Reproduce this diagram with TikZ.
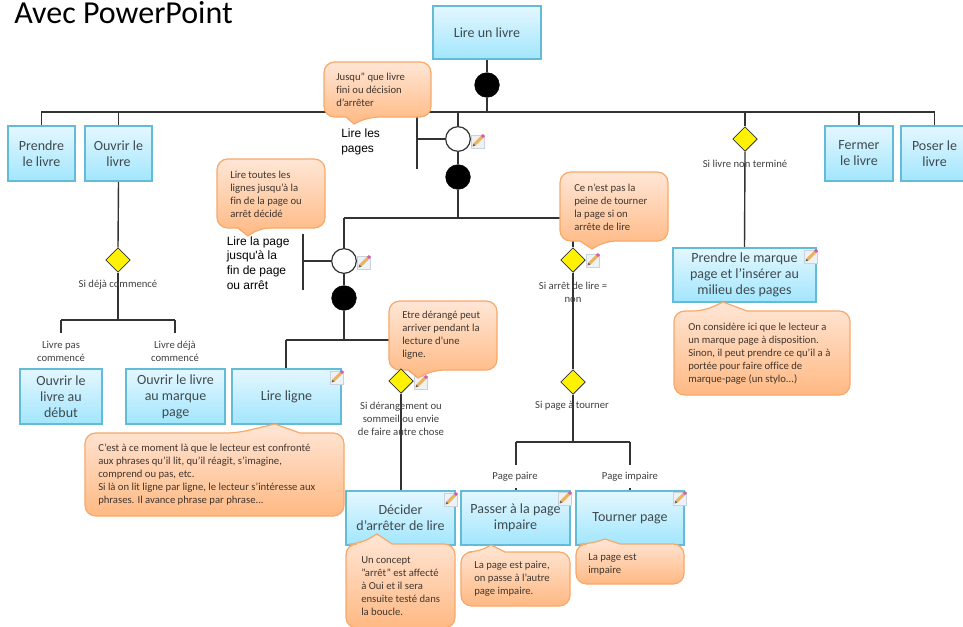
\documentclass[tikz,border=0pt]{standalone}
\usepackage{fontspec}
\setmainfont{Carlito}[Ligatures=NoCommon]
\newfontfamily\arialf{Liberation Sans}
\usetikzlibrary{shapes.geometric,backgrounds}
\definecolor{boxtop}{HTML}{E4F7FF}
\definecolor{boxbot}{HTML}{A2E6FD}
\definecolor{boxline}{HTML}{62BCD8}
\definecolor{caltop}{HTML}{FFE6D6}
\definecolor{calbot}{HTML}{FFB983}
\definecolor{calline}{HTML}{F8A868}
\definecolor{linecol}{HTML}{333333}
\definecolor{txtbox}{HTML}{3F4A4E}
\definecolor{txtcal}{HTML}{40362E}
\definecolor{txtlab}{HTML}{404040}
\definecolor{notebg}{HTML}{EEF1F5}
\definecolor{noteln}{HTML}{CBD2DA}
\definecolor{pencil}{HTML}{EDB35C}
\definecolor{eraser}{HTML}{D65BB0}
\tikzset{
  x=0.75pt,y=-0.75pt,
  taskbox/.style={draw=boxline,line width=0.9pt,top color=boxtop,bottom color=boxbot,
    align=center,inner sep=0pt,text=txtbox,font=\fontsize{10.5}{12}\selectfont},
  blackdot/.style={circle,fill=black,draw=black,minimum size=18.5pt,inner sep=0pt},
  whitedot/.style={circle,fill=white,draw=linecol,line width=0.9pt,minimum size=18.5pt,inner sep=0pt},
  decision/.style={diamond,fill=yellow,draw=linecol,line width=0.6pt,minimum size=18.5pt,inner sep=0pt,aspect=1},
  conn/.style={draw=linecol,line width=1.05pt},
  callshape/.style={draw=calline,line width=0.9pt,top color=caltop,bottom color=calbot},
  calltext/.style={anchor=west,align=left,inner sep=0pt,text=txtcal,font=\fontsize{8}{9.75}\selectfont},
  guard/.style={align=center,inner sep=0pt,text=txtlab,font=\fontsize{8}{9.75}\selectfont},
  actlabel/.style={anchor=west,align=left,inner sep=0pt,text=black},
}
% name x1 y1 x2 y2 text
\newcommand\taskn[6]{\node[taskbox,minimum width={(#4-#2)*0.75pt},minimum height={(#5-#3)*0.75pt}] (#1) at ({(#2+#4)/2},{(#3+#5)/2}) {#6};}
% callout with pointer below: x1 y1 x2 y2 base1 base2 tipx tipy
\newcommand\callbelow[8]{\path[callshape,rounded corners=8pt] ({(#1+#3)/2},#2) -- (#3,#2) -- (#3,#4) -- (#6,#4) [sharp corners] -- (#7,#8) -- (#5,#4) [rounded corners=8pt] -- (#1,#4) -- (#1,#2) -- cycle;}
% callout with pointer above
\newcommand\callabove[8]{\path[callshape,rounded corners=8pt] ({(#1+#3)/2},#4) -- (#1,#4) -- (#1,#2) -- (#5,#2) [sharp corners] -- (#7,#8) -- (#6,#2) [rounded corners=8pt] -- (#3,#2) -- (#3,#4) -- cycle;}
% note icon
\newcommand\noteicon[2]{\begin{scope}[shift={(#1,#2)}]
  \path[fill=notebg,draw=noteln,line width=0.7pt] (-7,-6) rectangle (6,7);
  \draw[line width=2.2pt,color=pencil] (-3.5,3.5) -- (4,-4);
  \draw[line width=2.2pt,color=eraser] (4,-4) -- (6,-6);
  \fill[black!60] (-5.5,5.5) -- (-4.6,2.6) -- (-2.6,4.6) -- cycle;
\end{scope}}
\begin{document}
\begin{tikzpicture}
\useasboundingbox (0,0) rectangle (963,626);
\clip (0,0) rectangle (963,626);
\node[anchor=base west,inner sep=0pt,text=black,font=\fontsize{24}{26}\selectfont] (title) at (14,23) {Avec PowerPoint};

% task boxes
\taskn{root}{433}{6}{541}{59}{Lire un livre}
\taskn{prendre}{8}{126}{75}{181}{Prendre\\le livre}
\taskn{ouvrir}{85}{126}{152}{181}{Ouvrir le\\livre}
\taskn{fermer}{825}{126}{893}{181}{Fermer\\le livre}
\taskn{poser}{901}{126}{968}{181}{Poser le\\livre}
\taskn{debut}{20}{369}{102}{424}{Ouvrir le\\livre au\\début}
\taskn{marque}{126}{369}{225}{424}{Ouvrir le livre\\au marque\\page}
\taskn{ligne}{232}{369}{341}{424}{Lire ligne}
\taskn{decider}{346}{491}{455}{545}{Décider\\d'arrêter de lire}
\taskn{passer}{461}{491}{570}{545}{Passer à la page\\impaire}
\taskn{tourner}{576}{491}{684}{545}{Tourner page}
\taskn{inserer}{673}{248}{816}{302}{Prendre le marque\\page et l'insérer au\\milieu des pages}

% operators
\node[blackdot] (s0) at (487,85) {};
\node[whitedot] (w1) at (458,139) {};
\node[blackdot] (s1) at (458,177) {};
\node[whitedot] (w2) at (344,261) {};
\node[blackdot] (s2) at (344,298) {};

% junctions
\coordinate (j0) at (487,112);
\coordinate (j1) at (458,112);
\coordinate (j2) at (417,112);
\coordinate (j3) at (745,112);
\coordinate (e1) at (417,169);
\coordinate (m1) at (417,139);
\coordinate (j4) at (458,218);
\coordinate (j5) at (344,218);
\coordinate (j6) at (573,218);
\coordinate (m2) at (303,261);
\coordinate (t2) at (303,234);
\coordinate (e2) at (303,290);
\coordinate (j7) at (344,340);
\coordinate (j8) at (286,340);
\coordinate (j9) at (401,340);
\coordinate (j10) at (118,320);
\coordinate (a1) at (61,320);
\coordinate (a2) at (175,320);
\coordinate (a1e) at (61,333);
\coordinate (a2e) at (175,333);
\coordinate (j11) at (573,442);
\coordinate (b1) at (516,442);
\coordinate (b2) at (630,442);
\coordinate (b1e) at (516,465);
\coordinate (b2e) at (630,465);
\coordinate (b1s) at (516,488);
\coordinate (b2s) at (630,488);

% callouts
\callbelow{324}{62}{431}{117}{346}{368}{354}{124}
\callbelow{217}{159}{325}{228}{238}{259}{248}{236}
\callbelow{560}{172}{668}{241}{580}{605}{592}{249}
\callabove{674}{311}{850}{395}{704}{747}{723}{302}
\callabove{85}{433}{344}{516}{237}{300}{275}{424}
\noteicon{421}{382}
\callbelow{389}{301}{497}{370}{408}{433}{418}{378}
\callabove{346}{544}{455}{628}{360}{392}{377}{534}
\callabove{461}{552}{570}{606}{479}{505}{491}{545}
\callabove{576}{544}{684}{584}{590}{620}{605}{539}

% decisions
\node[decision] (d1) at (118,260) {};
\node[decision] (d2) at (745,139) {};
\node[decision] (d3) at (573,260) {};
\node[decision] (d4) at (573,382) {};
\node[decision] (d5) at (401,381) {};

% connectors
\begin{scope}[on background layer]
\draw[conn] (root.south) -- (s0.north);
\draw[conn] (s0.south) -- (j0);
\draw[conn] (prendre.north) |- (j3) ;
\draw[conn] (ouvrir.north) -- (ouvrir.north |- j0);
\draw[conn] (j3) -| (fermer.north);
\draw[conn] (j3) -| (poser.north);
\draw[conn] (j1) -- (w1.north);
\draw[conn] (j3) -- (d2.north);
\draw[conn] (d2.south) -- (inserer.north);
\draw[conn] (j2) -- (e1);
\draw[conn] (m1) -- (w1.west);
\draw[conn] (w1.south) -- (s1.north);
\draw[conn] (s1.south) -- (j4);
\draw[conn] (j5) -- (j6);
\draw[conn] (j5) -- (w2.north);
\draw[conn] (j6) -- (d3.north);
\draw[conn] (t2) -- (e2);
\draw[conn] (m2) -- (w2.west);
\draw[conn] (w2.south) -- (s2.north);
\draw[conn] (s2.south) -- (j7);
\draw[conn] (j8) -- (j9);
\draw[conn] (j8) -- (ligne.north -| j8);
\draw[conn] (j9) -- (d5.north);
\draw[conn] (d5.south) -- (decider.north -| d5);
\draw[conn] (ouvrir.south) -- (d1.north);
\draw[conn] (d1.south) -- (j10);
\draw[conn] (a1) -- (a2);
\draw[conn] (a1) -- (a1e);
\draw[conn] (a2) -- (a2e);
\draw[conn] (d3.south) -- (d4.north);
\draw[conn] (d4.south) -- (j11);
\draw[conn] (b1) -- (b2);
\draw[conn] (b1) -- (b1e);
\draw[conn] (b2) -- (b2e);
\draw[conn] (b1s) -- (passer.north -| b1s);
\draw[conn] (b2s) -- (tourner.north -| b2s);
\end{scope}

% note icons
\noteicon{478}{141}
\noteicon{364}{262}
\noteicon{337}{377}
\noteicon{451}{499}
\noteicon{565}{498}
\noteicon{680}{498}
\noteicon{593}{260}
\noteicon{811}{256}

% callout texts
\node[calltext] (c1) at (336,90) {Jusqu" que livre\\fini ou décision\\d'arrêter};
\node[calltext] (c2) at (230,194) {Lire toutes les\\lignes jusqu'à la\\fin de la page ou\\arrêt décidé};
\node[calltext] (c3) at (574,207.5) {Ce n'est pas la\\peine de tourner\\la page si on\\arrête de lire};
\node[calltext] (c4) at (688,353.5) {On considère ici que le lecteur a\\un marque page à disposition.\\Sinon, il peut prendre ce qu'il a à\\portée pour faire office de\\marque-page (un stylo...)};
\node[calltext] (c5) at (98,475) {C'est à ce moment là que le lecteur est confronté\\aux phrases qu'il lit, qu'il réagit, s'imagine,\\comprend ou pas, etc.\\Si là on lit ligne par ligne, le lecteur s'intéresse aux\\phrases. Il avance phrase par phrase...};
\node[calltext] (c6) at (402,335.5) {Etre dérangé peut\\arriver pendant la\\lecture d'une\\ligne.};
\node[calltext] (c7) at (361,586) {Un concept\\"arrêt" est affecté\\à Oui et il sera\\ensuite testé dans\\la boucle.};
\node[calltext] (c8) at (474,579) {La page est paire,\\on passe à l'autre\\page impaire.};
\node[calltext] (c9) at (588,564.5) {La page est\\impaire};

% guards
\node[guard] (g1) at (118,285) {Si déjà commencé};
\node[guard] (g2) at (745,164) {Si livre non terminé};
\node[guard] (g3) at (573,292) {Si arrêt de lire =\\non};
\node[guard] (g4) at (572,406) {Si page à tourner};
\node[guard] (g5) at (401,419) {Si dérangement ou\\sommeil ou envie\\de faire autre chose};
\node[guard] (g6) at (61,351) {Livre pas\\commencé};
\node[guard] (g7) at (175,351) {Livre déjà\\commencé};
\node[guard] (g8) at (515,477) {Page paire};
\node[guard] (g9) at (630,477) {Page impaire};

% action labels
\node[actlabel,font=\arialf\fontsize{9}{11.25}\selectfont] (l1) at (341,141.5) {Lire les\\pages};
\node[actlabel,font=\arialf\fontsize{9}{11}\selectfont] (l2) at (226.5,263) {Lire la page\\jusqu'à la\\fin de page\\ou arrêt};
\end{tikzpicture}
\end{document}
